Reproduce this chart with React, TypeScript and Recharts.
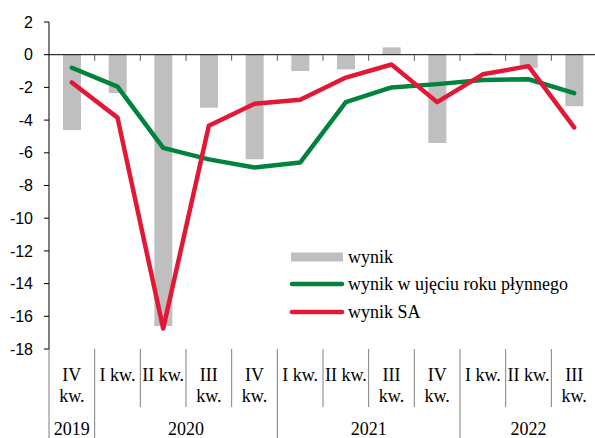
import React from 'react';
import { ComposedChart, Bar, Line, XAxis, YAxis, ReferenceLine } from 'recharts';

const categories = ['2019-Q4', '2020-Q1', '2020-Q2', '2020-Q3', '2020-Q4', '2021-Q1', '2021-Q2', '2021-Q3', '2021-Q4', '2022-Q1', '2022-Q2', '2022-Q3'];
const quarterLabels = [['IV', 'kw.'], ['I kw.'], ['II kw.'], ['III', 'kw.'], ['IV', 'kw.'], ['I kw.'], ['II kw.'], ['III', 'kw.'], ['IV', 'kw.'], ['I kw.'], ['II kw.'], ['III', 'kw.']];
const years = ['2019', '2020', '2020', '2020', '2020', '2021', '2021', '2021', '2021', '2022', '2022', '2022'];
const wynik = [-4.6, -2.35, -16.6, -3.25, -6.4, -1.0, -0.9, 0.45, -5.4, 0.08, -0.8, -3.15];
const wynikRoll = [-0.8, -1.95, -5.7, -6.4, -6.9, -6.6, -2.9, -2.0, -1.8, -1.55, -1.5, -2.35];
const wynikSA = [-1.7, -3.85, -16.75, -4.35, -3.0, -2.75, -1.4, -0.6, -2.9, -1.2, -0.7, -4.45];
const yTicks = [-18, -16, -14, -12, -10, -8, -6, -4, -2, 0, 2];

const data = categories.map((c, i) => ({
  cat: c,
  wynik: wynik[i],
  roll: wynikRoll[i],
  sa: wynikSA[i],
}));

const W = 595;
const CW = 597;
const H = 438;
const LEFT = 49;
const TOP = 22;
const PLOT_BOTTOM = 349;
const BAND = (CW - LEFT) / categories.length;
const SERIF = '"Liberation Serif", "Times New Roman", serif';
const SANS = '"Liberation Sans", Arial, sans-serif';

const GRAY = '#BFBFBF';
const GREEN = '#00843D';
const RED = '#E31837';

const CategoryTick = (props: any) => {
  const { x, index } = props;
  const i = index as number;
  const lines = quarterLabels[i];
  const yearStart = i === 0 || years[i] !== years[i - 1];
  const sepX = x - BAND / 2;
  let yearCount = 0;
  if (yearStart) {
    for (let j = i; j < years.length && years[j] === years[i]; j++) yearCount++;
  }
  return (
    <g>
      <line x1={sepX} y1={PLOT_BOTTOM} x2={sepX} y2={yearStart ? H : 407} stroke="#7F7F7F" strokeWidth={1} />
      {lines.map((t, k) => (
        <text key={k} x={x} y={381 + k * 21} textAnchor="middle" fontFamily={SERIF} fontSize={18} fill="#000">
          {t}
        </text>
      ))}
      {yearStart && (
        <text x={sepX + (yearCount * BAND) / 2} y={435} textAnchor="middle" fontFamily={SERIF} fontSize={18} fill="#000">
          {years[i]}
        </text>
      )}
    </g>
  );
};

const legendItems = [
  { label: 'wynik', color: GRAY, type: 'bar' },
  { label: 'wynik w ujęciu roku płynnego', color: GREEN, type: 'line' },
  { label: 'wynik SA', color: RED, type: 'line' },
];

const LegendBox = () => (
  <div style={{ position: 'absolute', left: 289, top: 243, fontFamily: SERIF, fontSize: 18, color: '#000' }}>
    {legendItems.map((it) => (
      <div key={it.label} style={{ display: 'flex', alignItems: 'center', height: 27.5, whiteSpace: 'nowrap' }}>
        <svg width={56} height={12} style={{ marginRight: 3 }}>
          {it.type === 'bar' ? (
            <rect x={2} y={1.5} width={52} height={9} fill={it.color} />
          ) : (
            <line x1={3} y1={6} x2={53} y2={6} stroke={it.color} strokeWidth={4.5} strokeLinecap="round" />
          )}
        </svg>
        <span style={{ lineHeight: '18px' }}>{it.label}</span>
      </div>
    ))}
  </div>
);

export default function App() {
  return (
    <div style={{ position: 'absolute', left: 0, top: 0, width: W, height: H, background: '#fff', overflow: 'hidden' }}>
      <ComposedChart width={CW} height={H} data={data} margin={{ top: TOP, right: 0, bottom: 0, left: 0 }} barCategoryGap={0}>
        <YAxis
          domain={[-18, 2]}
          ticks={yTicks}
          interval={0}
          width={LEFT}
          tickSize={5}
          tickMargin={11}
          axisLine={{ stroke: '#000' }}
          tickLine={{ stroke: '#000' }}
          tick={{ fontFamily: SANS, fontSize: 16, fill: '#000' }}
        />
        <XAxis
          dataKey="cat"
          height={H - PLOT_BOTTOM}
          interval={0}
          axisLine={false}
          tickLine={false}
          tick={<CategoryTick />}
        />
        <Bar dataKey="wynik" fill={GRAY} barSize={18} isAnimationActive={false} />
        <ReferenceLine y={0} stroke="#000" strokeWidth={1} />
        {categories.slice(1).map((c) => (
          <ReferenceLine
            key={c}
            segment={[{ x: c, y: 0 }, { x: c, y: -0.37 }]}
            position="start"
            stroke="#595959"
            strokeWidth={1}
          />
        ))}
        <Line dataKey="roll" stroke={GREEN} strokeWidth={4.5} dot={false} strokeLinejoin="round" strokeLinecap="round" isAnimationActive={false} />
        <Line dataKey="sa" stroke={RED} strokeWidth={4.5} dot={false} strokeLinejoin="round" strokeLinecap="round" isAnimationActive={false} />
      </ComposedChart>
      <LegendBox />
    </div>
  );
}
